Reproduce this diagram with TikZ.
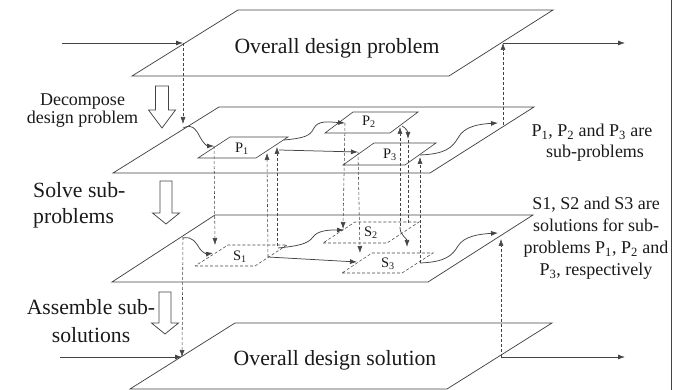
\documentclass[tikz,border=0pt]{standalone}
\usepackage{fontspec}
\setmainfont{Liberation Serif}
\usetikzlibrary{arrows.meta}
\definecolor{lc}{HTML}{444444}
\definecolor{tc}{HTML}{1A1A1A}
\begin{document}
\begin{tikzpicture}[x=1pt,y=-1pt,
  plane/.style={draw=lc, line width=0.75pt},
  subp/.style={draw=lc, line width=0.65pt},
  subs/.style={draw=lc, line width=0.55pt, densely dashed},
  flow/.style={draw=lc, line width=0.75pt, -{Latex[length=7pt,width=5pt]}},
  vflow/.style={draw=lc, line width=0.55pt, densely dashed, -{Latex[length=7pt,width=5pt]}},
  vline/.style={draw=lc, line width=0.55pt, densely dashed},
  blk/.style={draw=lc, line width=0.75pt, fill=white},
  big/.style={text=tc, anchor=base, inner sep=0pt, font=\fontsize{21.7}{26}\selectfont},
  mid/.style={text=tc, anchor=base, inner sep=0pt, font=\fontsize{18}{20}\selectfont},
  lab/.style={text=tc, inner sep=0pt, font=\fontsize{14.5}{16}\selectfont},
  ]
\path[use as bounding box] (0,0) rectangle (686,390);
\draw[lc, line width=0.8pt] (671,0) -- (671,390);

% planes
\draw[plane] (132,76) -- (449,76) -- (553,10) -- (238,10) -- cycle;
\draw[plane] (113,173) -- (430,173) -- (534,107) -- (219,107) -- cycle;
\draw[plane] (112,282) -- (428,282) -- (533,215) -- (215,215) -- cycle;
\draw[plane] (130,389) -- (447,389) -- (552,323) -- (235,323) -- cycle;

% sub-problems
\draw[subp] (198,158) -- (256,158) -- (288,137) -- (230,137) -- cycle;
\draw[subp] (325,133) -- (390,133) -- (418,112) -- (353,112) -- cycle;
\draw[subp] (343,165) -- (405,165) -- (436,143) -- (374,143) -- cycle;
% sub-solutions
\draw[subs] (195,266) -- (255,266) -- (287,245) -- (228,245) -- cycle;
\draw[subs] (323,243) -- (387,243) -- (419,222) -- (355,222) -- cycle;
\draw[subs] (342,273) -- (402,273) -- (433,253) -- (372,253) -- cycle;

\node[lab] (p1) at (242,149) {P\textsubscript{1}};
\node[lab] (p2) at (369,122) {P\textsubscript{2}};
\node[lab] (p3) at (390,155) {P\textsubscript{3}};
\node[lab] (s1) at (240,257) {S\textsubscript{1}};
\node[lab] (s2) at (371,233) {S\textsubscript{2}};
\node[lab] (s3) at (388,264) {S\textsubscript{3}};

% coordinates
\coordinate (inA) at (62,43);   \coordinate (inAe) at (183,43);
\coordinate (outAs) at (503,43); \coordinate (outA) at (625,43);
\coordinate (inB) at (60,357);  \coordinate (inBe) at (182,357);
\coordinate (outBs) at (501,357); \coordinate (outB) at (625,357);
\coordinate (d2L) at (183,124); \coordinate (d2R) at (503,125);
\coordinate (d3L) at (183,237); \coordinate (d3R) at (501,239);

% in/out arrows
\draw[flow] (inA) -- (inAe);
\draw[flow] (outAs) -- (outA);
\draw[flow] (inB) -- (inBe);
\draw[flow] (outBs) -- (outB);

% vertical dashed links between planes
\draw[vflow] (inAe) -- (d2L);
\draw[vflow] (d2R) -- (outAs);
\draw[vflow] (d3L) -- (inBe);
\draw[vflow] (outBs) -- (d3R);

% plane 2 flows
\coordinate (p1in) at (214,146);
\draw[flow] (183,128) .. controls (193,123) and (197,131) .. (200,137) .. controls (203,143) and (207,146) .. (p1in);
\coordinate (p2in) at (345,123);
\draw[flow] (284,140) .. controls (305,138) and (310,136) .. (314,128) .. controls (318,120) and (330,122) .. (p2in);
\coordinate (p3in) at (358,152);
\coordinate (p1out) at (279,150);
\draw[flow] (p1out) -- (p3in);
\coordinate (p3out) at (420,155);
\coordinate (pend) at (498,123);
\draw[flow] (p3out) .. controls (445,154) and (452,148) .. (458,138) .. controls (464,126) and (480,124) .. (pend);
\draw[flow] (402,126) .. controls (406,128) and (408,132) .. (408,139);

% plane 3 flows
\coordinate (s1in) at (213,253);
\draw[flow] (183,238) .. controls (193,236) and (196,243) .. (200,249) .. controls (203,253) and (207,254) .. (s1in);
\coordinate (s2in) at (344,230);
\draw[flow] (278,248) .. controls (298,246) and (308,244) .. (313,237) .. controls (318,230) and (330,230) .. (s2in);
\coordinate (s3in) at (357,262);
\coordinate (s1out) at (268,257);
\draw[flow] (s1out) -- (s3in);
\coordinate (s3out) at (420,263);
\coordinate (send) at (498,233);
\draw[flow] (s3out) .. controls (445,262) and (452,256) .. (458,246) .. controls (464,236) and (480,234) .. (send);
\draw[flow] (400,227) .. controls (400,236) and (407,238) .. (407,247);

% dashed verticals between plane 2 and plane 3
\draw[vflow] (p1in) -- (215,245);
\draw[vflow] (s1out) -- (267,153);
\draw[vflow] (277,246) -- (277,147);
\draw[vflow] (p2in) -- (343,229);
\draw[vflow] (p3in) -- (360,253);
\draw[vflow] (400,226) -- (400,127);
\draw[vline] (408,140) -- (408,224);
\draw[vflow] (s3out) -- (420,157);

% hollow block arrows
\draw[blk] (155.5,86) -- (168.5,86) -- (168.5,110) -- (175.5,110) -- (162,128) -- (148.5,110) -- (155.5,110) -- cycle;
\draw[blk] (160,181) -- (172,181) -- (172,213) -- (179.5,213) -- (166,224) -- (152.5,213) -- (160,213) -- cycle;
\draw[blk] (159,292) -- (171,292) -- (171,323) -- (178.5,323) -- (165,334) -- (151.5,323) -- (159,323) -- cycle;

% texts
\node[big] (tp) at (337,54) {Overall design problem};
\node[big] (ts) at (335,365) {Overall design solution};
\node[mid] (dc1) at (82.5,106) {Decompose};
\node[mid] (dc2) at (82.5,124) {design problem};
\node[big, anchor=base west] (sv1) at (33,198) {Solve sub-};
\node[big, anchor=base west] (sv2) at (33,224) {problems};
\node[big] (as1) at (91,315) {Assemble sub-};
\node[big] (as2) at (91,342) {solutions};
\node[mid] (pt1) at (592,137) {P\textsubscript{1}, P\textsubscript{2} and P\textsubscript{3} are};
\node[mid] (pt2) at (595,158) {sub-problems};
\node[mid] (st1) at (596,210) {S1, S2 and S3 are};
\node[mid] (st2) at (596,232) {solutions for sub-};
\node[mid] (st3) at (596,254) {problems P\textsubscript{1}, P\textsubscript{2} and};
\node[mid] (st4) at (596,276) {P\textsubscript{3}, respectively};
\end{tikzpicture}
\end{document}
